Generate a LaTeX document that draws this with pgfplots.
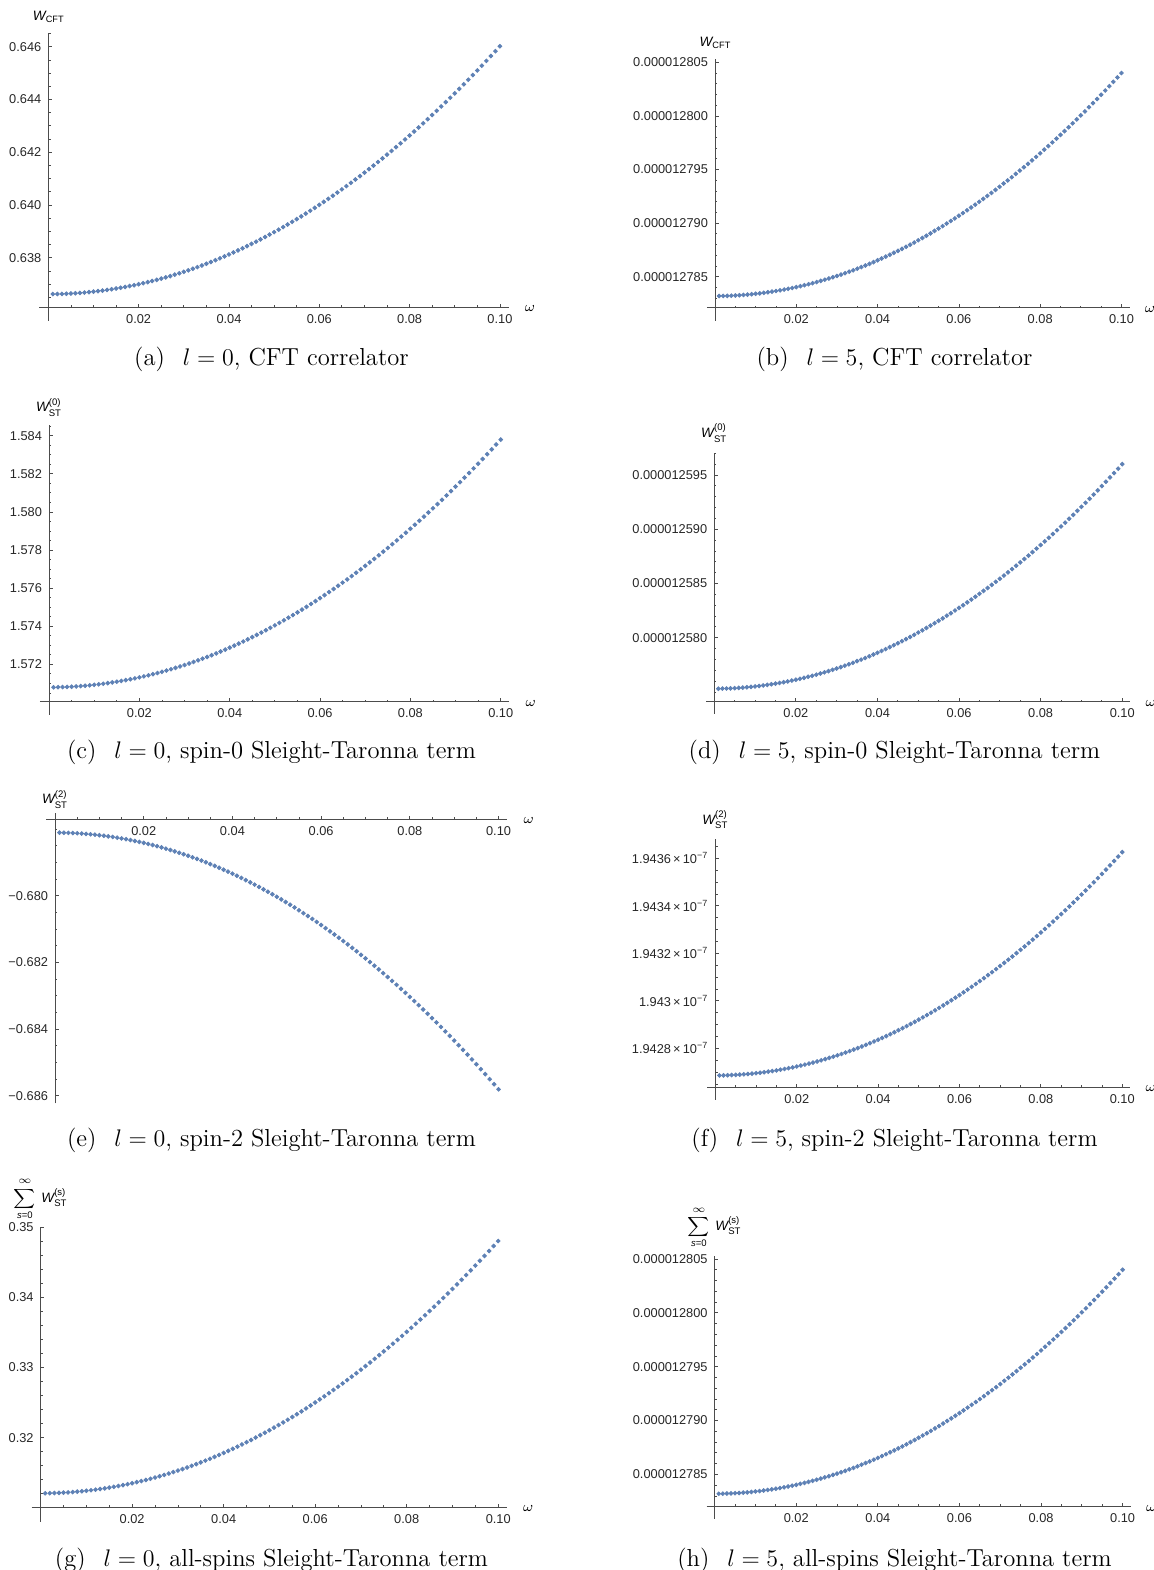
\documentclass[border=0pt]{standalone}
\usepackage{amsmath}
\usepackage{fontspec}
\usepackage{pgfplots}
\pgfplotsset{compat=1.18}
\usepackage{pgfplotstable}
\newfontfamily\arial{Liberation Sans}
\definecolor{mblue}{rgb}{0.368417,0.506779,0.709798}
\definecolor{axgray}{gray}{0.3}

\pgfplotstableread{
w a b c d e f g
0.001 0.636621 1.278320e-5 1.570797 1.257530e-5 -0.678111 1.9426861e-7 0.312064
0.002 0.636624 1.278321e-5 1.570801 1.257531e-5 -0.678113 1.9426864e-7 0.312074
0.003 0.636628 1.278322e-5 1.570808 1.257532e-5 -0.678117 1.9426868e-7 0.312092
0.004 0.636635 1.278323e-5 1.570817 1.257533e-5 -0.678122 1.9426875e-7 0.312118
0.005 0.636644 1.278325e-5 1.570829 1.257535e-5 -0.678129 1.9426884e-7 0.312150
0.006 0.636654 1.278327e-5 1.570843 1.257537e-5 -0.678138 1.9426894e-7 0.312190
0.007 0.636666 1.278330e-5 1.570860 1.257540e-5 -0.678148 1.9426906e-7 0.312236
0.008 0.636680 1.278333e-5 1.570879 1.257543e-5 -0.678159 1.9426920e-7 0.312290
0.009 0.636696 1.278337e-5 1.570901 1.257547e-5 -0.678172 1.9426936e-7 0.312352
0.010 0.636714 1.278341e-5 1.570926 1.257551e-5 -0.678187 1.9426954e-7 0.312420
0.011 0.636734 1.278345e-5 1.570953 1.257555e-5 -0.678203 1.9426974e-7 0.312496
0.012 0.636755 1.278350e-5 1.570983 1.257560e-5 -0.678221 1.9426995e-7 0.312578
0.013 0.636779 1.278355e-5 1.571016 1.257565e-5 -0.678240 1.9427019e-7 0.312668
0.014 0.636804 1.278361e-5 1.571051 1.257571e-5 -0.678261 1.9427044e-7 0.312766
0.015 0.636832 1.278367e-5 1.571089 1.257577e-5 -0.678283 1.9427072e-7 0.312870
0.016 0.636861 1.278373e-5 1.571129 1.257583e-5 -0.678307 1.9427101e-7 0.312982
0.017 0.636892 1.278380e-5 1.571172 1.257590e-5 -0.678333 1.9427132e-7 0.313100
0.018 0.636925 1.278387e-5 1.571217 1.257597e-5 -0.678359 1.9427165e-7 0.313226
0.019 0.636959 1.278395e-5 1.571265 1.257605e-5 -0.678388 1.9427199e-7 0.313360
0.020 0.636996 1.278403e-5 1.571316 1.257613e-5 -0.678418 1.9427236e-7 0.313500
0.021 0.637035 1.278412e-5 1.571369 1.257621e-5 -0.678450 1.9427275e-7 0.313648
0.022 0.637075 1.278421e-5 1.571425 1.257630e-5 -0.678483 1.9427315e-7 0.313802
0.023 0.637117 1.278430e-5 1.571484 1.257640e-5 -0.678517 1.9427357e-7 0.313964
0.024 0.637161 1.278440e-5 1.571545 1.257649e-5 -0.678554 1.9427401e-7 0.314134
0.025 0.637208 1.278450e-5 1.571609 1.257659e-5 -0.678591 1.9427448e-7 0.314310
0.026 0.637255 1.278461e-5 1.571675 1.257670e-5 -0.678631 1.9427495e-7 0.314494
0.027 0.637305 1.278472e-5 1.571744 1.257681e-5 -0.678671 1.9427545e-7 0.314684
0.028 0.637357 1.278483e-5 1.571815 1.257692e-5 -0.678714 1.9427597e-7 0.314882
0.029 0.637411 1.278495e-5 1.571889 1.257704e-5 -0.678758 1.9427651e-7 0.315088
0.030 0.637466 1.278507e-5 1.571966 1.257716e-5 -0.678803 1.9427706e-7 0.315300
0.031 0.637523 1.278520e-5 1.572045 1.257729e-5 -0.678850 1.9427763e-7 0.315520
0.032 0.637583 1.278533e-5 1.572127 1.257742e-5 -0.678898 1.9427823e-7 0.315746
0.033 0.637644 1.278547e-5 1.572212 1.257755e-5 -0.678949 1.9427884e-7 0.315980
0.034 0.637707 1.278560e-5 1.572299 1.257769e-5 -0.679000 1.9427947e-7 0.316222
0.035 0.637772 1.278575e-5 1.572389 1.257784e-5 -0.679053 1.9428012e-7 0.316470
0.036 0.637838 1.278590e-5 1.572481 1.257798e-5 -0.679108 1.9428078e-7 0.316726
0.037 0.637907 1.278605e-5 1.572576 1.257813e-5 -0.679164 1.9428147e-7 0.316988
0.038 0.637977 1.278620e-5 1.572673 1.257829e-5 -0.679222 1.9428217e-7 0.317258
0.039 0.638050 1.278636e-5 1.572773 1.257845e-5 -0.679281 1.9428290e-7 0.317536
0.040 0.638124 1.278653e-5 1.572876 1.257861e-5 -0.679342 1.9428364e-7 0.317820
0.041 0.638200 1.278670e-5 1.572981 1.257878e-5 -0.679404 1.9428440e-7 0.318112
0.042 0.638278 1.278687e-5 1.573089 1.257895e-5 -0.679468 1.9428518e-7 0.318410
0.043 0.638358 1.278705e-5 1.573200 1.257913e-5 -0.679534 1.9428598e-7 0.318716
0.044 0.638440 1.278723e-5 1.573313 1.257931e-5 -0.679601 1.9428680e-7 0.319030
0.045 0.638524 1.278741e-5 1.573429 1.257949e-5 -0.679669 1.9428764e-7 0.319350
0.046 0.638609 1.278760e-5 1.573547 1.257968e-5 -0.679739 1.9428849e-7 0.319678
0.047 0.638696 1.278779e-5 1.573668 1.257987e-5 -0.679811 1.9428936e-7 0.320012
0.048 0.638786 1.278799e-5 1.573791 1.258007e-5 -0.679884 1.9429026e-7 0.320354
0.049 0.638877 1.278819e-5 1.573917 1.258027e-5 -0.679959 1.9429117e-7 0.320704
0.050 0.638970 1.278840e-5 1.574046 1.258048e-5 -0.680035 1.9429210e-7 0.321060
0.051 0.639065 1.278861e-5 1.574177 1.258068e-5 -0.680113 1.9429305e-7 0.321424
0.052 0.639162 1.278882e-5 1.574311 1.258090e-5 -0.680192 1.9429402e-7 0.321794
0.053 0.639260 1.278904e-5 1.574448 1.258111e-5 -0.680273 1.9429500e-7 0.322172
0.054 0.639361 1.278927e-5 1.574587 1.258134e-5 -0.680355 1.9429601e-7 0.322558
0.055 0.639464 1.278949e-5 1.574729 1.258156e-5 -0.680439 1.9429704e-7 0.322950
0.056 0.639568 1.278972e-5 1.574873 1.258179e-5 -0.680525 1.9429808e-7 0.323350
0.057 0.639674 1.278996e-5 1.575020 1.258203e-5 -0.680612 1.9429914e-7 0.323756
0.058 0.639782 1.279020e-5 1.575169 1.258226e-5 -0.680700 1.9430022e-7 0.324170
0.059 0.639892 1.279044e-5 1.575321 1.258251e-5 -0.680790 1.9430132e-7 0.324592
0.060 0.640004 1.279069e-5 1.575476 1.258275e-5 -0.680882 1.9430244e-7 0.325020
0.061 0.640118 1.279094e-5 1.575633 1.258300e-5 -0.680975 1.9430358e-7 0.325456
0.062 0.640233 1.279120e-5 1.575793 1.258326e-5 -0.681070 1.9430473e-7 0.325898
0.063 0.640351 1.279146e-5 1.575956 1.258352e-5 -0.681166 1.9430591e-7 0.326348
0.064 0.640470 1.279172e-5 1.576121 1.258378e-5 -0.681264 1.9430710e-7 0.326806
0.065 0.640592 1.279199e-5 1.576289 1.258405e-5 -0.681363 1.9430832e-7 0.327270
0.066 0.640715 1.279226e-5 1.576459 1.258432e-5 -0.681464 1.9430955e-7 0.327742
0.067 0.640840 1.279254e-5 1.576632 1.258459e-5 -0.681567 1.9431080e-7 0.328220
0.068 0.640967 1.279282e-5 1.576807 1.258487e-5 -0.681670 1.9431207e-7 0.328706
0.069 0.641095 1.279310e-5 1.576985 1.258516e-5 -0.681776 1.9431335e-7 0.329200
0.070 0.641226 1.279339e-5 1.577166 1.258544e-5 -0.681883 1.9431466e-7 0.329700
0.071 0.641359 1.279369e-5 1.577349 1.258573e-5 -0.681992 1.9431599e-7 0.330208
0.072 0.641493 1.279398e-5 1.577535 1.258603e-5 -0.682102 1.9431733e-7 0.330722
0.073 0.641629 1.279428e-5 1.577724 1.258633e-5 -0.682213 1.9431869e-7 0.331244
0.074 0.641767 1.279459e-5 1.577915 1.258664e-5 -0.682327 1.9432007e-7 0.331774
0.075 0.641908 1.279490e-5 1.578109 1.258694e-5 -0.682441 1.9432148e-7 0.332310
0.076 0.642049 1.279521e-5 1.578305 1.258726e-5 -0.682558 1.9432289e-7 0.332854
0.077 0.642193 1.279553e-5 1.578504 1.258757e-5 -0.682675 1.9432433e-7 0.333404
0.078 0.642339 1.279585e-5 1.578705 1.258789e-5 -0.682795 1.9432579e-7 0.333962
0.079 0.642487 1.279618e-5 1.578909 1.258822e-5 -0.682916 1.9432727e-7 0.334528
0.080 0.642636 1.279651e-5 1.579116 1.258855e-5 -0.683038 1.9432876e-7 0.335100
0.081 0.642787 1.279685e-5 1.579325 1.258888e-5 -0.683162 1.9433027e-7 0.335680
0.082 0.642941 1.279719e-5 1.579537 1.258922e-5 -0.683287 1.9433181e-7 0.336266
0.083 0.643096 1.279753e-5 1.579752 1.258956e-5 -0.683415 1.9433336e-7 0.336860
0.084 0.643253 1.279788e-5 1.579969 1.258991e-5 -0.683543 1.9433493e-7 0.337462
0.085 0.643412 1.279823e-5 1.580189 1.259026e-5 -0.683673 1.9433652e-7 0.338070
0.086 0.643572 1.279858e-5 1.580411 1.259061e-5 -0.683805 1.9433812e-7 0.338686
0.087 0.643735 1.279894e-5 1.580636 1.259097e-5 -0.683938 1.9433975e-7 0.339308
0.088 0.643899 1.279931e-5 1.580863 1.259133e-5 -0.684073 1.9434139e-7 0.339938
0.089 0.644066 1.279968e-5 1.581093 1.259170e-5 -0.684209 1.9434306e-7 0.340576
0.090 0.644234 1.280005e-5 1.581326 1.259207e-5 -0.684347 1.9434474e-7 0.341220
0.091 0.644404 1.280042e-5 1.581561 1.259244e-5 -0.684486 1.9434644e-7 0.341872
0.092 0.644576 1.280081e-5 1.581799 1.259282e-5 -0.684627 1.9434816e-7 0.342530
0.093 0.644750 1.280119e-5 1.582040 1.259320e-5 -0.684770 1.9434990e-7 0.343196
0.094 0.644926 1.280158e-5 1.582283 1.259359e-5 -0.684914 1.9435166e-7 0.343870
0.095 0.645104 1.280197e-5 1.582529 1.259398e-5 -0.685059 1.9435344e-7 0.344550
0.096 0.645283 1.280237e-5 1.582777 1.259438e-5 -0.685206 1.9435523e-7 0.345238
0.097 0.645464 1.280277e-5 1.583028 1.259478e-5 -0.685355 1.9435704e-7 0.345932
0.098 0.645648 1.280318e-5 1.583281 1.259518e-5 -0.685505 1.9435888e-7 0.346634
0.099 0.645833 1.280359e-5 1.583537 1.259559e-5 -0.685657 1.9436073e-7 0.347344
0.100 0.646020 1.280400e-5 1.583796 1.259600e-5 -0.685810 1.9436260e-7 0.348060
}\datatable

% the l=5 values differ from each other only in their last digits: re-express them
% exactly (decimal arithmetic of l3fp) relative to a reference value, in units of 1e-9 (1e-11 for f)
\pgfplotstablecreatecol[create col/assign/.code={%
  \getthisrow{b}\val\edef\entry{\fpeval{(\val-1.2782e-5)*1e9}}%
  \pgfkeyslet{/pgfplots/table/create col/next content}\entry}]{bu}\datatable
\pgfplotstablecreatecol[create col/assign/.code={%
  \getthisrow{d}\val\edef\entry{\fpeval{(\val-1.2573e-5)*1e9}}%
  \pgfkeyslet{/pgfplots/table/create col/next content}\entry}]{du}\datatable
\pgfplotstablecreatecol[create col/assign/.code={%
  \getthisrow{f}\val\edef\entry{\fpeval{(\val-1.9426e-7)*1e11}}%
  \pgfkeyslet{/pgfplots/table/create col/next content}\entry}]{fu}\datatable

\pgfplotsset{
  mma/.style={
    scale only axis, axis lines=middle,
    axis line style={-,axgray,line width=0.5pt},
    inner axis line style={-},
    enlargelimits=false, clip=false,
    tick align=inside, major tick length=1.9pt, minor tick length=1.1pt,
    tick style={axgray,line width=0.4pt},
    tick label style={font=\arial\fontsize{6.4}{7}\selectfont, text=black!85},
    xtick={0.02,0.04,0.06,0.08,0.1},
    xticklabels={0.02,0.04,0.06,0.08,0.10},
    minor xtick={0.005,0.01,0.015,0.025,0.03,0.035,0.045,0.05,0.055,0.065,0.07,0.075,0.085,0.09,0.095},
    xmin=-0.002, xmax=0.102,
  },
  pts/.style={only marks, mark=*, mark size=0.95pt, mark options={draw=none, fill=mblue}, color=mblue},
}
\newcommand{\Wl}{{\arial\itshape W}}
\newcommand{\labfont}{\arial\fontsize{6.8}{7}\selectfont}
\newcommand{\capfont}{\fontsize{12.3}{14}\selectfont}
\newcommand{\sumlab}{$\displaystyle\sum_{\text{\textit{s}=0}}^{\raisebox{0.6pt}{$\scriptstyle\infty$}}\,\textit{W}^{\text{(s)}}_{\text{ST}}$}

\begin{document}
\begin{tikzpicture}
\useasboundingbox (0,0) rectangle (576.5pt,-785pt);

% (a)
\begin{axis}[mma, at={(19.65pt,-153.65pt)}, anchor=south west, width=234.6pt, height=137pt,
  xmax=0.1019, ymin=0.63612, ymax=0.64651,
  ytick={0.638,0.640,0.642,0.644,0.646}, yticklabels={0.638,0.640,0.642,0.644,0.646},
  minor ytick={0.6365,0.637,...,0.6465}]
\addplot[pts] table[x=w,y=a] {\datatable};
\draw[axgray,line width=0.5pt] (rel axis cs:0.0192,0) -- ++(0pt,-7pt);
\node[font=\labfont,yshift=8.3pt] at (rel axis cs:0.0192,1) {\Wl\raisebox{-1.3pt}{\fontsize{4.6}{5}\selectfont CFT}};
\node[anchor=west,xshift=4.5pt,yshift=-0.8pt,font=\fontsize{7.5}{8}\selectfont] at (rel axis cs:1,0) {$\omega$};
\end{axis}

% (b)  y in units of 1e-9 above 0.000012782
\begin{axis}[mma, at={(353.45pt,-153.85pt)}, anchor=south west, width=211.35pt, height=124.2pt,
  ymin=0.11, ymax=23.28,
  ytick={3,8,13,18,23},
  yticklabels={0.000012785,0.000012790,0.000012795,0.000012800,0.000012805},
  minor ytick={1,2,...,23}]
\addplot[pts] table[x=w,y=bu] {\datatable};
\draw[axgray,line width=0.5pt] (rel axis cs:0.0192,0) -- ++(0pt,-6.7pt);
\node[font=\labfont,yshift=8.3pt] at (rel axis cs:0.0192,1) {\Wl\raisebox{-1.3pt}{\fontsize{4.6}{5}\selectfont CFT}};
\node[anchor=west,xshift=4pt,yshift=-0.8pt,font=\fontsize{7.5}{8}\selectfont] at (rel axis cs:1,0) {$\omega$};
\end{axis}

% (c)
\begin{axis}[mma, at={(20pt,-350.85pt)}, anchor=south west, width=234.65pt, height=138.35pt,
  xmax=0.1019, ymin=1.57004, ymax=1.58456,
  ytick={1.572,1.574,1.576,1.578,1.580,1.582,1.584},
  yticklabels={1.572,1.574,1.576,1.578,1.580,1.582,1.584},
  minor ytick={1.5705,1.571,...,1.5845}]
\addplot[pts] table[x=w,y=c] {\datatable};
\draw[axgray,line width=0.5pt] (rel axis cs:0.0192,0) -- ++(0pt,-6.7pt);
\node[font=\labfont,yshift=8.8pt] at (rel axis cs:0.0192,1) {$\textit{W}^{\text{(0)}}_{\text{ST}}$};
\node[anchor=west,xshift=4.5pt,yshift=-0.8pt,font=\fontsize{7.5}{8}\selectfont] at (rel axis cs:1,0) {$\omega$};
\end{axis}

% (d)  y in units of 1e-9 above 0.000012573
\begin{axis}[mma, at={(353.05pt,-350.85pt)}, anchor=south west, width=212.15pt, height=124.5pt,
  ymin=1.10, ymax=24.06,
  ytick={7,12,17,22},
  yticklabels={0.000012580,0.000012585,0.000012590,0.000012595},
  minor ytick={2,3,...,24}]
\addplot[pts] table[x=w,y=du] {\datatable};
\draw[axgray,line width=0.5pt] (rel axis cs:0.0192,0) -- ++(0pt,-6.2pt);
\node[font=\labfont,yshift=9.8pt] at (rel axis cs:0.0192,1) {$\textit{W}^{\text{(0)}}_{\text{ST}}$};
\node[anchor=west,xshift=4pt,yshift=-0.8pt,font=\fontsize{7.5}{8}\selectfont] at (rel axis cs:1,0) {$\omega$};
\end{axis}

% (e)
\begin{axis}[mma, at={(23.1pt,-551.65pt)}, anchor=south west, width=230.6pt, height=142pt,
  ymin=-0.68623, ymax=-0.67771,
  ytick={-0.686,-0.684,-0.682,-0.680},
  yticklabels={−0.686,−0.684,−0.682,−0.680},
  minor ytick={-0.686,-0.6855,...,-0.678}]
\addplot[pts] table[x=w,y=e] {\datatable};
\draw[axgray,line width=0.5pt] (rel axis cs:0.0192,1) -- ++(0pt,3pt);
\node[font=\labfont,yshift=10pt] at (rel axis cs:0.0192,1) {$\textit{W}^{\text{(2)}}_{\text{ST}}$};
\node[anchor=west,xshift=4.5pt,yshift=-0.8pt,font=\fontsize{7.5}{8}\selectfont] at (rel axis cs:1,1) {$\omega$};
\end{axis}

% (f)  y in units of 1e-11 above 1.9426e-7
\begin{axis}[mma, at={(353.6pt,-543.65pt)}, anchor=south west, width=211.6pt, height=124pt,
  ymin=0.36, ymax=10.8,
  ytick={2,4,6,8,10},
  yticklabels={1.9428\,×\,10\textsuperscript{−7},1.943\,×\,10\textsuperscript{−7},1.9432\,×\,10\textsuperscript{−7},1.9434\,×\,10\textsuperscript{−7},1.9436\,×\,10\textsuperscript{−7}},
  minor ytick={0.5,1,...,10.5}]
\addplot[pts] table[x=w,y=fu] {\datatable};
\draw[axgray,line width=0.5pt] (rel axis cs:0.0192,0) -- ++(0pt,-6.5pt);
\node[font=\labfont,yshift=9.8pt] at (rel axis cs:0.0192,1) {$\textit{W}^{\text{(2)}}_{\text{ST}}$};
\node[anchor=west,xshift=4pt,yshift=-0.8pt,font=\fontsize{7.5}{8}\selectfont] at (rel axis cs:1,0) {$\omega$};
\end{axis}

% (g)
\begin{axis}[mma, at={(15.75pt,-753.65pt)}, anchor=south west, width=237.7pt, height=140.3pt,
  xmax=0.1019, ymin=0.31006, ymax=0.3501,
  ytick={0.32,0.33,0.34,0.35}, yticklabels={0.32,0.33,0.34,0.35},
  minor ytick={0.312,0.314,...,0.35}]
\addplot[pts] table[x=w,y=g] {\datatable};
\draw[axgray,line width=0.5pt] (rel axis cs:0.0192,0) -- ++(0pt,-7.2pt);
\node[font=\labfont,yshift=13.8pt] at (rel axis cs:0.0192,1) {\sumlab};
\node[anchor=west,xshift=4.5pt,yshift=-0.8pt,font=\fontsize{7.5}{8}\selectfont] at (rel axis cs:1,0) {$\omega$};
\end{axis}

% (h)  y in units of 1e-9 above 0.000012782
\begin{axis}[mma, at={(353.25pt,-753.65pt)}, anchor=south west, width=212.15pt, height=125.65pt,
  ymin=-0.06, ymax=23.28,
  ytick={3,8,13,18,23},
  yticklabels={0.000012785,0.000012790,0.000012795,0.000012800,0.000012805},
  minor ytick={0,1,...,23}]
\addplot[pts] table[x=w,y=bu] {\datatable};
\draw[axgray,line width=0.5pt] (rel axis cs:0.0192,0) -- ++(0pt,-5.9pt);
\node[font=\labfont,yshift=14.3pt] at (rel axis cs:0.0192,1) {\sumlab};
\node[anchor=west,xshift=4pt,yshift=-0.8pt,font=\fontsize{7.5}{8}\selectfont] at (rel axis cs:1,0) {$\omega$};
\end{axis}

% captions
\node[anchor=base,font=\capfont] at (135.75pt,-182.8pt) {(a)\hspace{9pt}$l=0$, CFT correlator};
\node[anchor=base,font=\capfont] at (447.25pt,-182.8pt) {(b)\hspace{9pt}$l=5$, CFT correlator};
\node[anchor=base,font=\capfont] at (135.75pt,-379pt) {(c)\hspace{9pt}$l=0$, spin-0 Sleight-Taronna term};
\node[anchor=base,font=\capfont] at (447.25pt,-379pt) {(d)\hspace{9pt}$l=5$, spin-0 Sleight-Taronna term};
\node[anchor=base,font=\capfont] at (135.75pt,-573.3pt) {(e)\hspace{9pt}$l=0$, spin-2 Sleight-Taronna term};
\node[anchor=base,font=\capfont] at (447.25pt,-573.3pt) {(f)\hspace{9pt}$l=5$, spin-2 Sleight-Taronna term};
\node[anchor=base,font=\capfont] at (135.75pt,-783pt) {(g)\hspace{9pt}$l=0$, all-spins Sleight-Taronna term};
\node[anchor=base,font=\capfont] at (447.25pt,-783pt) {(h)\hspace{9pt}$l=5$, all-spins Sleight-Taronna term};
\end{tikzpicture}
\end{document}
